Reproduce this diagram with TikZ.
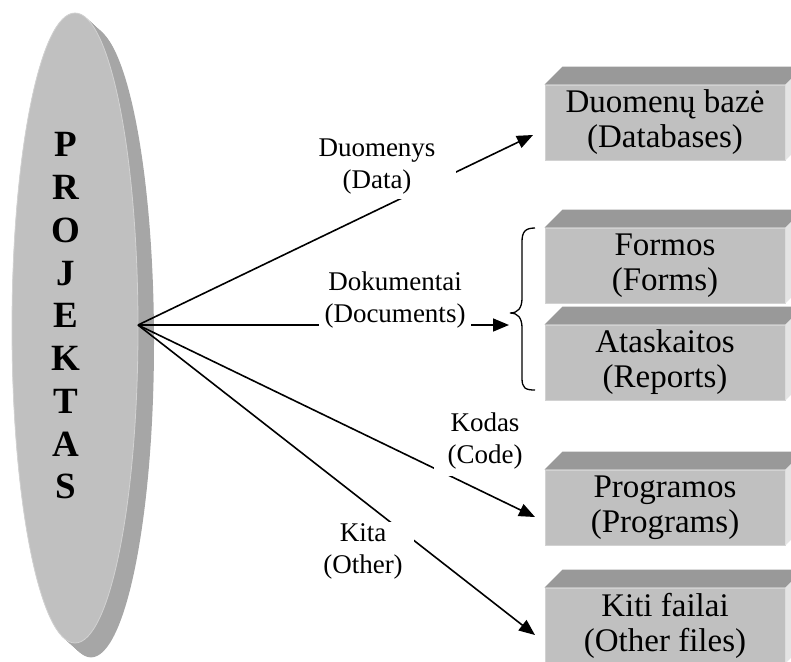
\documentclass[tikz,border=0pt]{standalone}
\usepackage{fontspec}
\setmainfont{Liberation Serif}
\usetikzlibrary{arrows.meta}

\definecolor{frontgray}{HTML}{C0C0C0}
\definecolor{depthgray}{HTML}{A6A6A6}
\definecolor{topgray}{HTML}{999999}
\definecolor{sidegray}{HTML}{E4E4E4}
\definecolor{edgegray}{HTML}{D2D2D2}

\tikzset{
  cube/.style={fill=frontgray, draw=edgegray, line width=0.8pt,
    minimum width=240pt, minimum height=75pt, inner sep=0pt, align=center,
    font=\fontsize{33}{35}\selectfont},
  topface/.style={fill=topgray},
  sideface/.style={fill=sidegray},
  flow/.style={line width=1.6pt, -{Triangle[length=16pt,width=13pt]}},
  flowlabel/.style={fill=white, align=center, font=\fontsize{27}{32}\selectfont},
  bracket/.style={line width=1.3pt}
}

\begin{document}
\begin{tikzpicture}[x=1pt, y=-1pt]
\useasboundingbox (0,0) rectangle (791,661);

% extruded oval: stacked copies give the dark side, the front face goes on top
\foreach \i in {0,...,16}{
  \fill[depthgray] (75+\i, 328+0.9*\i) ellipse [x radius=63pt, y radius=315pt];
}
\fill[frontgray, draw=edgegray, line width=0.8pt] (75,328) ellipse [x radius=63pt, y radius=315pt];
\node[align=center, font=\fontsize{37}{42.75}\selectfont\bfseries] (title) at (66,316)
  {P\\R\\O\\J\\E\\K\\T\\A\\S};

% target boxes
\node[cube] (b1) at (665,122.5) {Duomenų bazė\\(Databases)};
\node[cube] (b2) at (665,265.5) {Formos\\(Forms)};
\node[cube] (b3) at (665,362.5) {Ataskaitos\\(Reports)};
\node[cube] (b4) at (665,507.5) {Programos\\(Programs)};
\node[cube] (b5) at (665,625.5) {Kiti failai\\(Other files)};
\foreach \b in {b1,b2,b3,b4,b5}{
  \fill[topface] (\b.north west) -- ++(18,-18) -- ([shift={(18pt,18pt)}]\b.north east) -- (\b.north east) -- cycle;
  \fill[sideface] (\b.north east) -- ++(18,-18) -- ([shift={(18pt,18pt)}]\b.south east) -- (\b.south east) -- cycle;
}

% brace grouping forms and reports
\coordinate (bracetip) at (510,313);
\draw[bracket] (535,228) .. controls (525,228) and (522,232) .. (522,242) -- (522,298)
  .. controls (522,308) and (518,313) .. (bracetip)
  .. controls (518,313) and (522,318) .. (522,328) -- (522,378)
  .. controls (522,388) and (525,390) .. (535,390);

% connectors from the hub on the oval
\coordinate (hub) at (138,325);
\coordinate (datatip) at (533,135);
\coordinate (doctip) at (509,325);
\coordinate (codetip) at (535,517);
\coordinate (othertip) at (535,635);

\draw[flow] (hub) -- (datatip);
\draw[flow] (hub) -- (doctip);
\draw[flow] (hub) -- (codetip);
\draw[flow] (hub) -- (othertip);

% labels sit on white so they break their connectors
\node[flowlabel, inner xsep=20pt, inner ysep=4pt] (ldata) at (377,167) {Duomenys\\(Data)};
\node[flowlabel, inner xsep=6pt, inner ysep=4pt] (ldoc) at (395,300) {Dokumentai\\(Documents)};
\node[flowlabel, inner xsep=14pt, inner ysep=7pt] (lcode) at (485,441) {Kodas\\(Code)};
\node[flowlabel, inner xsep=11pt, inner ysep=1pt] (lother) at (363,551) {Kita\\(Other)};
\end{tikzpicture}
\end{document}
